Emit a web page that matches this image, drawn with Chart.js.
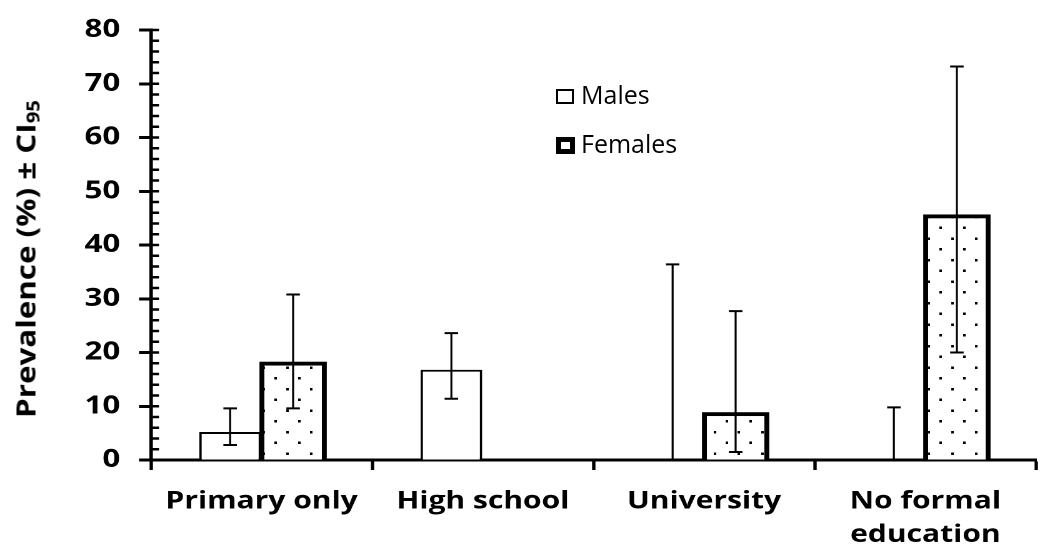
<!DOCTYPE html>
<html>
<head>
<meta charset="utf-8">
<script src="https://cdn.jsdelivr.net/npm/chart.js@4.4.1/dist/chart.umd.min.js"></script>
<style>
  html, body { margin: 0; padding: 0; background: #fff; }
  body { width: 1042px; height: 552px; overflow: hidden; position: relative; font-family: "Open Sans", sans-serif; }
  /* chart drawn narrower, then widened: the source figure has stretched lettering */
  #wrap { position: absolute; left: 0; top: 0; width: 834px; height: 552px; transform: scaleX(1.25); transform-origin: 0 0; }
  #ytitle { position: absolute; left: 25px; top: 259px; font-size: 27px; line-height: 27px; font-weight: bold; white-space: nowrap; color: #000; }
  #ytitle sub { font-size: 65%; vertical-align: -0.25em; line-height: 0; }
  .leg { position: absolute; font-size: 25px; line-height: 25px; color: #000; white-space: nowrap; }
  .box { position: absolute; box-sizing: border-box; background: #fff; border: 2.5px solid #000; }
</style>
</head>
<body>
<div id="wrap"><canvas id="chart" width="834" height="552"></canvas></div>
<div id="ytitle">Prevalence (%) ± CI<sub>95</sub></div>
<div class="box" style="left:556px; top:89px; width:18px; height:15px;"></div>
<div class="leg" style="left:581px; top:82px;">Males</div>
<div class="box" style="left:556px; top:137px; width:19px; height:17px; border-width:5px;"></div>
<div class="leg" style="left:581px; top:131px;">Females</div>
<script>
// === Data ===
var categories = [['Primary only'], ['High school'], ['University'], ['No formal', 'education']];
var males = [5.2, 16.8, 0, 0];
var malesLow = [2.8, 11.4, 0, 0];
var malesHigh = [9.6, 23.6, 36.4, 9.8];
var females = [18.3, null, 8.9, 45.7];
var femalesLow = [9.6, null, 1.5, 20.0];
var femalesHigh = [30.8, null, 27.7, 73.2];
var yMax = 80;
var yStep = 10;
var yMinorStep = 2;

// title length fixed to the source, text stretched along its run
(function() {
    var t = document.getElementById('ytitle');
    var w = t.offsetWidth;
    t.style.transform = 'translate(-50%, -50%) rotate(-90deg) scaleX(' + (318 / w) + ')';
})();

function dotPattern() {
    // tile drawn at 2x, scaled back down via setTransform
    var c = document.createElement('canvas');
    c.width = 38;
    c.height = 43;
    var g = c.getContext('2d');
    g.fillStyle = '#fff';
    g.fillRect(0, 0, c.width, c.height);
    g.fillStyle = '#000';
    g.fillRect(2, 2, 4, 5);
    g.fillRect(21, 23, 4, 5);
    var p = document.createElement('canvas').getContext('2d').createPattern(c, 'repeat');
    p.setTransform(new DOMMatrix().scale(0.5));
    return p;
}

var errorBars = {
    id: 'errorBars',
    afterDatasetsDraw: function(chart) {
        var ctx = chart.ctx;
        var yScale = chart.scales.y;
        ctx.save();
        ctx.strokeStyle = '#000';
        chart.data.datasets.forEach(function(ds, di) {
            var meta = chart.getDatasetMeta(di);
            meta.data.forEach(function(bar, i) {
                var lo = ds.errLow[i], hi = ds.errHigh[i];
                if (lo == null || hi == null) return;
                var yLo = yScale.getPixelForValue(lo);
                var yHi = yScale.getPixelForValue(hi);
                ctx.lineWidth = 1.6;
                ctx.beginPath();
                ctx.moveTo(bar.x, yLo);
                ctx.lineTo(bar.x, yHi);
                ctx.stroke();
                ctx.lineWidth = 2;
                ctx.beginPath();
                ctx.moveTo(bar.x - 5.4, yHi);
                ctx.lineTo(bar.x + 5.4, yHi);
                ctx.moveTo(bar.x - 5.4, yLo);
                ctx.lineTo(bar.x + 5.4, yLo);
                ctx.stroke();
            });
        });
        ctx.restore();
    }
};

var innerTicks = {
    id: 'innerTicks',
    afterDraw: function(chart) {
        var ctx = chart.ctx;
        var yScale = chart.scales.y;
        var x0 = chart.chartArea.left;
        ctx.save();
        ctx.strokeStyle = '#000';
        ctx.lineWidth = 2.5;
        ctx.beginPath();
        for (var v = 0; v <= yMax; v += yMinorStep) {
            var py = yScale.getPixelForValue(v);
            ctx.moveTo(x0, py);
            ctx.lineTo(x0 + 6.4, py);
        }
        ctx.stroke();
        ctx.restore();
    }
};

var font = 'Open Sans';

new Chart(document.getElementById('chart'), {
    type: 'bar',
    data: {
        labels: categories,
        datasets: [{
            label: 'Males',
            data: males,
            errLow: malesLow,
            errHigh: malesHigh,
            backgroundColor: '#fff',
            borderColor: '#000',
            borderWidth: 2,
            barPercentage: 0.98
        }, {
            label: 'Females',
            data: females,
            errLow: femalesLow,
            errHigh: femalesHigh,
            backgroundColor: dotPattern(),
            borderColor: '#000',
            borderWidth: 4,
            barPercentage: 1.07
        }]
    },
    options: {
        responsive: false,
        animation: false,
        devicePixelRatio: 2,
        categoryPercentage: 0.5695,
        layout: { padding: { top: 26.7, right: 5.2, bottom: 0, left: 0 } },
        plugins: {
            legend: { display: false },
            tooltip: { enabled: false }
        },
        scales: {
            x: {
                z: 1,
                ticks: {
                    color: '#000',
                    font: { family: font, size: 24, weight: 'bold', lineHeight: 1.4 },
                    padding: 15,
                    maxRotation: 0,
                    autoSkip: false
                },
                grid: { offset: true, drawOnChartArea: false, tickLength: 10, tickWidth: 2.7, tickColor: '#000' },
                border: { color: '#000', width: 3 },
                afterFit: function(s) { s.height = 92; }
            },
            y: {
                min: 0,
                max: yMax,
                ticks: {
                    stepSize: yStep,
                    color: '#000',
                    font: { family: font, size: 25, weight: 'bold' },
                    padding: 15
                },
                grid: { drawOnChartArea: false, tickLength: 9.6, tickWidth: 3, tickColor: '#000' },
                border: { color: '#000', width: 2.8 },
                afterFit: function(s) { s.width = 120.8; }
            }
        }
    },
    plugins: [errorBars, innerTicks]
});
</script>
</body>
</html>
